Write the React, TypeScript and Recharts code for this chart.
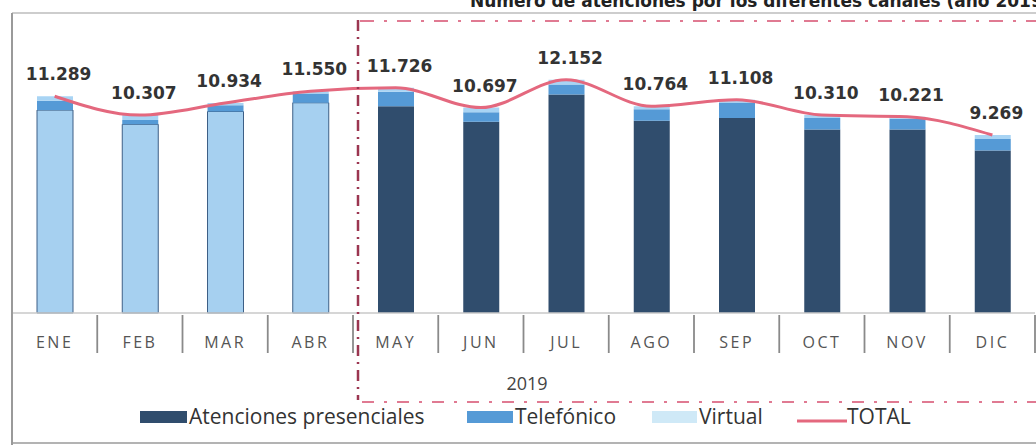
import React from 'react';
import { ComposedChart, Bar, Line, XAxis, YAxis, Cell, LabelList } from 'recharts';

const MONTHS = ['ENE', 'FEB', 'MAR', 'ABR', 'MAY', 'JUN', 'JUL', 'AGO', 'SEP', 'OCT', 'NOV', 'DIC'];
const PRESENCIALES = [10569, 9827, 10494, 10950, 10766, 9957, 11382, 10014, 10158, 9560, 9561, 8469];
const TELEFONICO = [480, 220, 320, 480, 760, 500, 520, 600, 800, 600, 560, 600];
const VIRTUAL = [240, 260, 120, 120, 200, 240, 250, 150, 150, 150, 100, 200];
const TOTAL = [11289, 10307, 10934, 11550, 11726, 10697, 12152, 10764, 11108, 10310, 10221, 9269];
const YEAR_LABEL = '2019';
const TITLE = 'Número de atenciones por los diferentes canales (año 2019)';

const SERIES = [
  { key: 'presenciales', name: 'Atenciones presenciales', color: '#304d6d' },
  { key: 'telefonico', name: 'Telefónico', color: '#559ad6' },
  { key: 'virtual', name: 'Virtual', color: '#a8d4f4' },
];
const TOTAL_COLOR = '#e4687e';
const EARLY_FILL = '#a6d0f0';
const EARLY_COUNT = 4;

const data = MONTHS.map((mes, i) => ({
  mes,
  presenciales: PRESENCIALES[i],
  telefonico: TELEFONICO[i],
  virtual: VIRTUAL[i],
  total: TOTAL[i],
}));

const fmt = (v: number) => String(v).replace(/\B(?=(\d{3})+(?!\d))/g, '.');

const TotalLabel = (props: any) => {
  const { x, y, value } = props;
  return (
    <text x={x + 4} y={y - 16} textAnchor="middle" fontFamily="DejaVu Sans" fontWeight="bold" fontSize={17} fill="#333">
      {fmt(value)}
    </text>
  );
};

const BAND = 1023 / 12;

const MonthTick = (props: any) => {
  const { x, y, payload } = props;
  return (
    <g>
      <text x={x} y={y + 35} textAnchor="middle" fontFamily="Open Sans" fontSize={16} letterSpacing={2.5} fill="#555">
        {payload.value}
      </text>
      <line x1={x + BAND / 2} x2={x + BAND / 2} y1={y + 2} y2={y + 40} stroke="#8a8a8a" strokeWidth={1.8} />
    </g>
  );
};

const LEG_FONT = 21;

export default function App() {
  return (
    <div style={{ position: 'absolute', left: 0, top: 0, width: 1036, height: 445, background: '#fff', overflow: 'hidden' }}>
      <ComposedChart width={1036} height={445} data={data} margin={{ top: 13, right: 1, bottom: 92, left: 12 }}>
        <XAxis dataKey="mes" interval={0} tickLine={false} tickSize={0} tickMargin={0} height={40}
          axisLine={{ stroke: '#c8c8c8', strokeWidth: 1.5 }} tick={<MonthTick />} />
        <YAxis hide domain={[0, 15625]} />
        <Bar dataKey="presenciales" stackId="a" barSize={36} fill={SERIES[0].color} isAnimationActive={false}>
          {data.map((d, i) => (
            <Cell key={d.mes} fill={i < EARLY_COUNT ? EARLY_FILL : SERIES[0].color}
              stroke={i < EARLY_COUNT ? '#3d5f86' : 'none'} strokeWidth={1} />
          ))}
        </Bar>
        <Bar dataKey="telefonico" stackId="a" barSize={36} fill={SERIES[1].color} isAnimationActive={false} />
        <Bar dataKey="virtual" stackId="a" barSize={36} fill={SERIES[2].color} isAnimationActive={false} />
        <Line dataKey="total" type="monotone" stroke={TOTAL_COLOR} strokeWidth={3} dot={false} activeDot={false}
          isAnimationActive={false}>
          <LabelList dataKey="total" content={<TotalLabel />} />
        </Line>
      </ComposedChart>
      <svg width={1036} height={445} style={{ position: 'absolute', left: 0, top: 0, pointerEvents: 'none' }}>
        <text x={470} y={7} fontFamily="DejaVu Sans" fontWeight="bold" fontSize={17} fill="#222">{TITLE}</text>
        <line x1={12} x2={1036} y1={13} y2={13} stroke="#bdbdbd" strokeWidth={1.5} />
        <line x1={12} x2={12} y1={13} y2={445} stroke="#9a9a9a" strokeWidth={2} />
        <line x1={12} x2={1036} y1={443} y2={443} stroke="#9a9a9a" strokeWidth={1.5} />
        <line x1={358} x2={358} y1={20} y2={400} stroke="#9b3550" strokeWidth={2.5} strokeDasharray="11 6 2 6" />
        <line x1={360} x2={1036} y1={21} y2={21} stroke="#e07a92" strokeWidth={2} strokeDasharray="14 10 3 10" />
        <line x1={362} x2={1036} y1={402} y2={402} stroke="#e07a92" strokeWidth={2} strokeDasharray="12 10 3 10" />
        <text x={527} y={390} textAnchor="middle" fontFamily="Open Sans" fontSize={18} fill="#444">{YEAR_LABEL}</text>
        <rect x={140} y={411} width={47} height={12} fill={SERIES[0].color} />
        <text x={189} y={424} fontFamily="Open Sans" fontSize={LEG_FONT} fill="#333">{SERIES[0].name}</text>
        <rect x={467} y={411} width={46} height={12} fill={SERIES[1].color} />
        <text x={515} y={424} fontFamily="Open Sans" fontSize={LEG_FONT} fill="#333">{SERIES[1].name}</text>
        <rect x={652} y={411} width={45} height={12} fill="#cfe9f7" />
        <text x={699} y={424} fontFamily="Open Sans" fontSize={LEG_FONT} fill="#333">{SERIES[2].name}</text>
        <line x1={797} x2={847} y1={421} y2={421} stroke={TOTAL_COLOR} strokeWidth={3} />
        <text x={847} y={424} fontFamily="Open Sans" fontSize={LEG_FONT} fill="#333">TOTAL</text>
      </svg>
    </div>
  );
}
